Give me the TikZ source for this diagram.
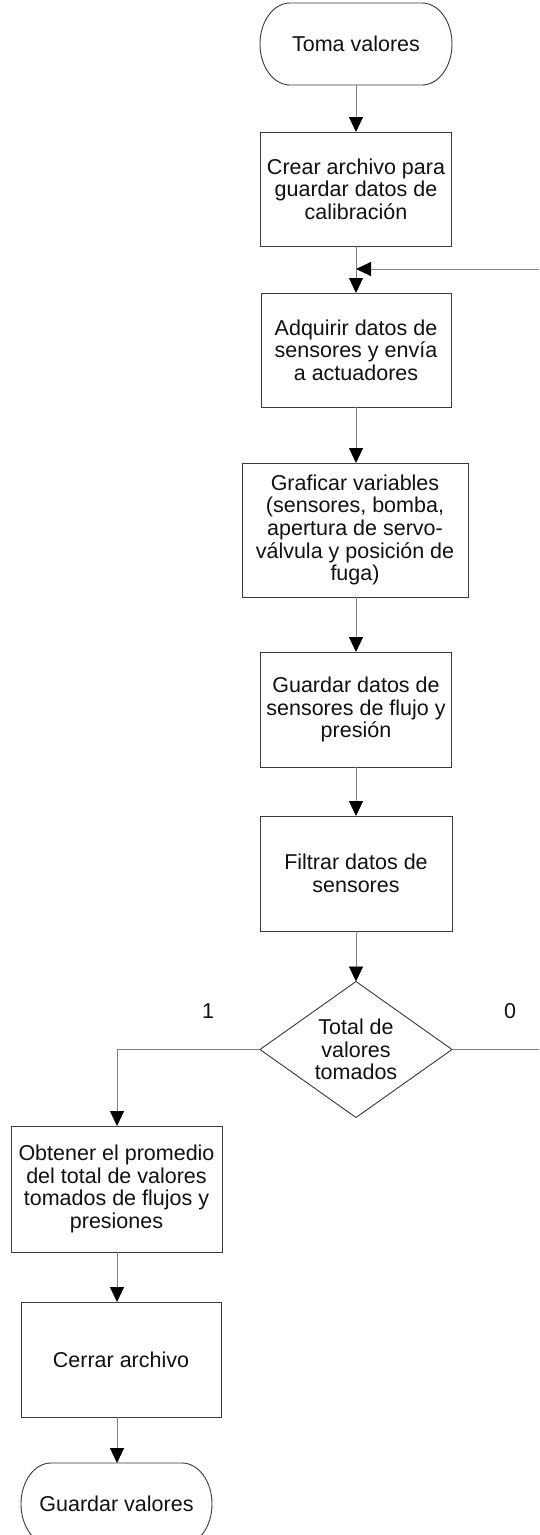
\documentclass[tikz,border=0pt]{standalone}
\usepackage{fontspec}
\setmainfont{Liberation Sans}
\usetikzlibrary{arrows.meta}
\definecolor{connc}{HTML}{808080}
\definecolor{edgec}{HTML}{3A3A3A}
\definecolor{inkc}{HTML}{111111}
\tikzset{
  basefont/.style={font=\fontsize{21.5}{22.6}\selectfont, text=inkc, align=center},
  procbox/.style={basefont, rectangle, draw=edgec, line width=0.9pt, inner sep=0pt, outer sep=0pt},
  ghostbox/.style={basefont, rectangle, draw=none, inner sep=0pt, outer sep=0pt},
  outline/.style={draw=edgec, line width=0.9pt},
  link/.style={draw=connc, line width=0.9pt},
  arrowlink/.style={link, -{Triangle[length=15pt,width=14pt,color=black]}},
}
\begin{document}
\begin{tikzpicture}[x=1pt,y=1pt]
\useasboundingbox[fill=white] (0,0) rectangle (539,-1535);

% start terminator
\node[ghostbox, minimum width=192pt, minimum height=82pt] (start) at (356,-44) {Toma valores};
\draw[outline] ([xshift=30pt]start.north west) -- ([xshift=-30pt]start.north east)
  arc[start angle=90, end angle=-90, x radius=30pt, y radius=41pt]
  -- ([xshift=30pt]start.south west)
  arc[start angle=270, end angle=90, x radius=30pt, y radius=41pt] -- cycle;

\node[procbox, minimum width=191pt, minimum height=114pt] (crear) at (356,-189)
  {Crear archivo para\\guardar datos de\\calibración};
\node[procbox, minimum width=190pt, minimum height=114pt] (adq) at (356,-350)
  {Adquirir datos de\\sensores y envía\\a actuadores};
\node[procbox, minimum width=226pt, minimum height=134pt] (graf) at (355,-530)
  {Graficar variables\\(sensores, bomba,\\apertura de servo-\\válvula y posición de\\fuga)};
\node[procbox, minimum width=191pt, minimum height=115pt] (guard) at (356,-709.5)
  {Guardar datos de\\sensores de flujo y\\presión};
\node[procbox, minimum width=192pt, minimum height=115pt] (filt) at (356,-873.5)
  {Filtrar datos de\\sensores};

% decision
\node[ghostbox, minimum width=192pt, minimum height=136pt] (dec) at (356,-1049.5)
  {Total de\\valores\\tomados};
\draw[outline] (dec.north) -- (dec.east) -- (dec.south) -- (dec.west) -- cycle;

\node[procbox, minimum width=211pt, minimum height=126pt] (obt) at (116.5,-1189)
  {Obtener el promedio\\del total de valores\\tomados de flujos y\\presiones};
\node[procbox, minimum width=200pt, minimum height=115pt] (cerr) at (121,-1359.5)
  {Cerrar archivo};

% end terminator
\node[ghostbox, minimum width=191pt, minimum height=82pt] (fin) at (116.5,-1504) {Guardar valores};
\draw[outline] ([xshift=30pt]fin.north west) -- ([xshift=-30pt]fin.north east)
  arc[start angle=90, end angle=-90, x radius=30pt, y radius=41pt]
  -- ([xshift=30pt]fin.south west)
  arc[start angle=270, end angle=90, x radius=30pt, y radius=41pt] -- cycle;

% labels
\node[basefont] (one) at (208,-1011) {1};
\node[basefont] (zero) at (510,-1011) {0};

% coordinates for free ends
\coordinate (loopin) at (539,-269);
\coordinate (join) at (356,-269);
\coordinate (loopout) at (539,-1049.5);

% connectors
\draw[arrowlink] (start.south) -- (crear.north);
\draw[arrowlink] (crear.south) -- (adq.north);
\draw[arrowlink] (loopin) -- (join);
\draw[arrowlink] (adq.south) -- (adq.south |- graf.north);
\draw[arrowlink] (adq.south |- graf.south) -- (adq.south |- guard.north);
\draw[arrowlink] (guard.south) -- (filt.north);
\draw[arrowlink] (filt.south) -- (dec.north);
\draw[link] (dec.east) -- (loopout);
\draw[arrowlink] (dec.west) -| ([xshift=0.5pt]obt.north);
\draw[arrowlink] ([xshift=0.5pt]obt.south) -- ([xshift=0.5pt]obt.south |- cerr.north);
\draw[arrowlink] ([xshift=0.5pt]obt.south |- cerr.south) -- ([xshift=0.5pt]obt.south |- fin.north);
\end{tikzpicture}
\end{document}
